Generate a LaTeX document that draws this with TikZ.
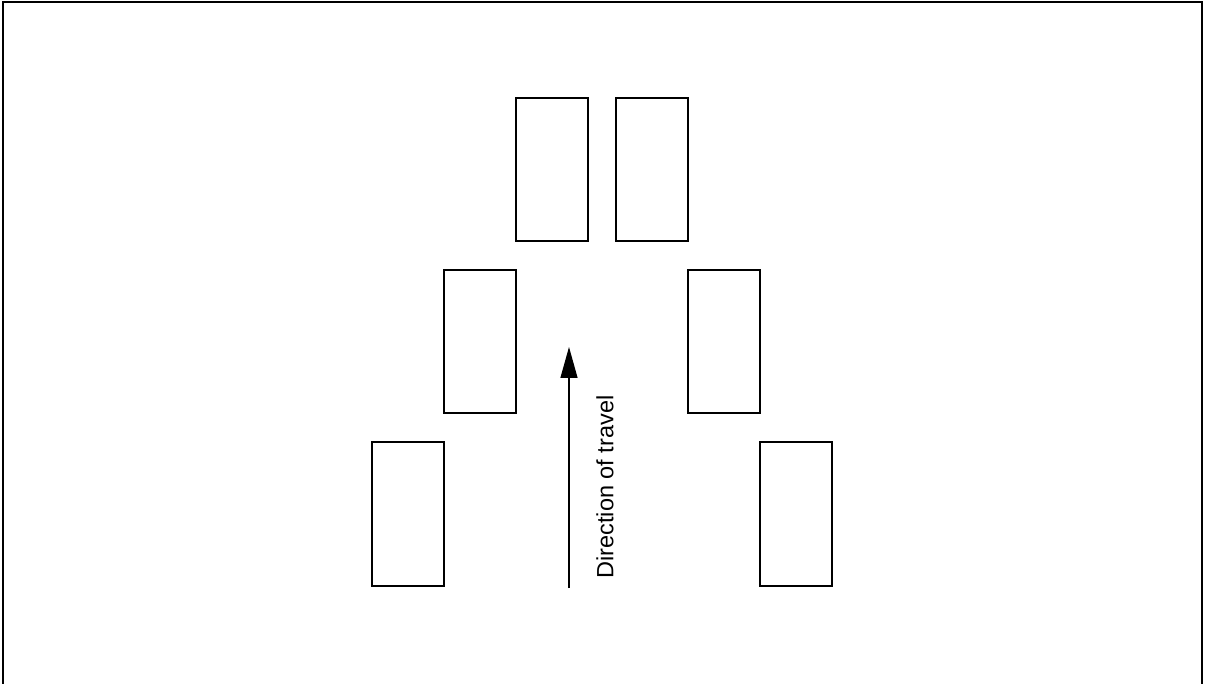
\documentclass[tikz,border=0pt]{standalone}
\usepackage{fontspec}
\setmainfont{Liberation Sans}
\usetikzlibrary{arrows.meta}
\begin{document}
\begin{tikzpicture}[x=1pt,y=-1pt,
  car/.style={draw=black,line width=1.3pt,line join=miter},
  frame/.style={draw=black,line width=1.3pt},
  travel/.style={draw=black,line width=1.3pt,-{Triangle[length=31pt,width=17pt]}}]
\useasboundingbox (0,0) rectangle (1205,684);
\draw[frame] (3,690) -- (3,2) -- (1202,2) -- (1202,690);
% cars
\draw[car] (516,98) rectangle (588,241);
\draw[car] (616,98) rectangle (688,241);
\draw[car] (444,270) rectangle (516,413);
\draw[car] (688,270) rectangle (760,413);
\draw[car] (372,442) rectangle (444,586);
\draw[car] (760,442) rectangle (832,586);
% arrow
\coordinate (start) at (569,588);
\coordinate (tip) at (569,347);
\draw[travel] (start) -- (tip);
\node[rotate=90,inner sep=0pt,font=\fontsize{23.5}{28}\selectfont] (label) at (605,487) {Direction of travel};
\end{tikzpicture}
\end{document}
